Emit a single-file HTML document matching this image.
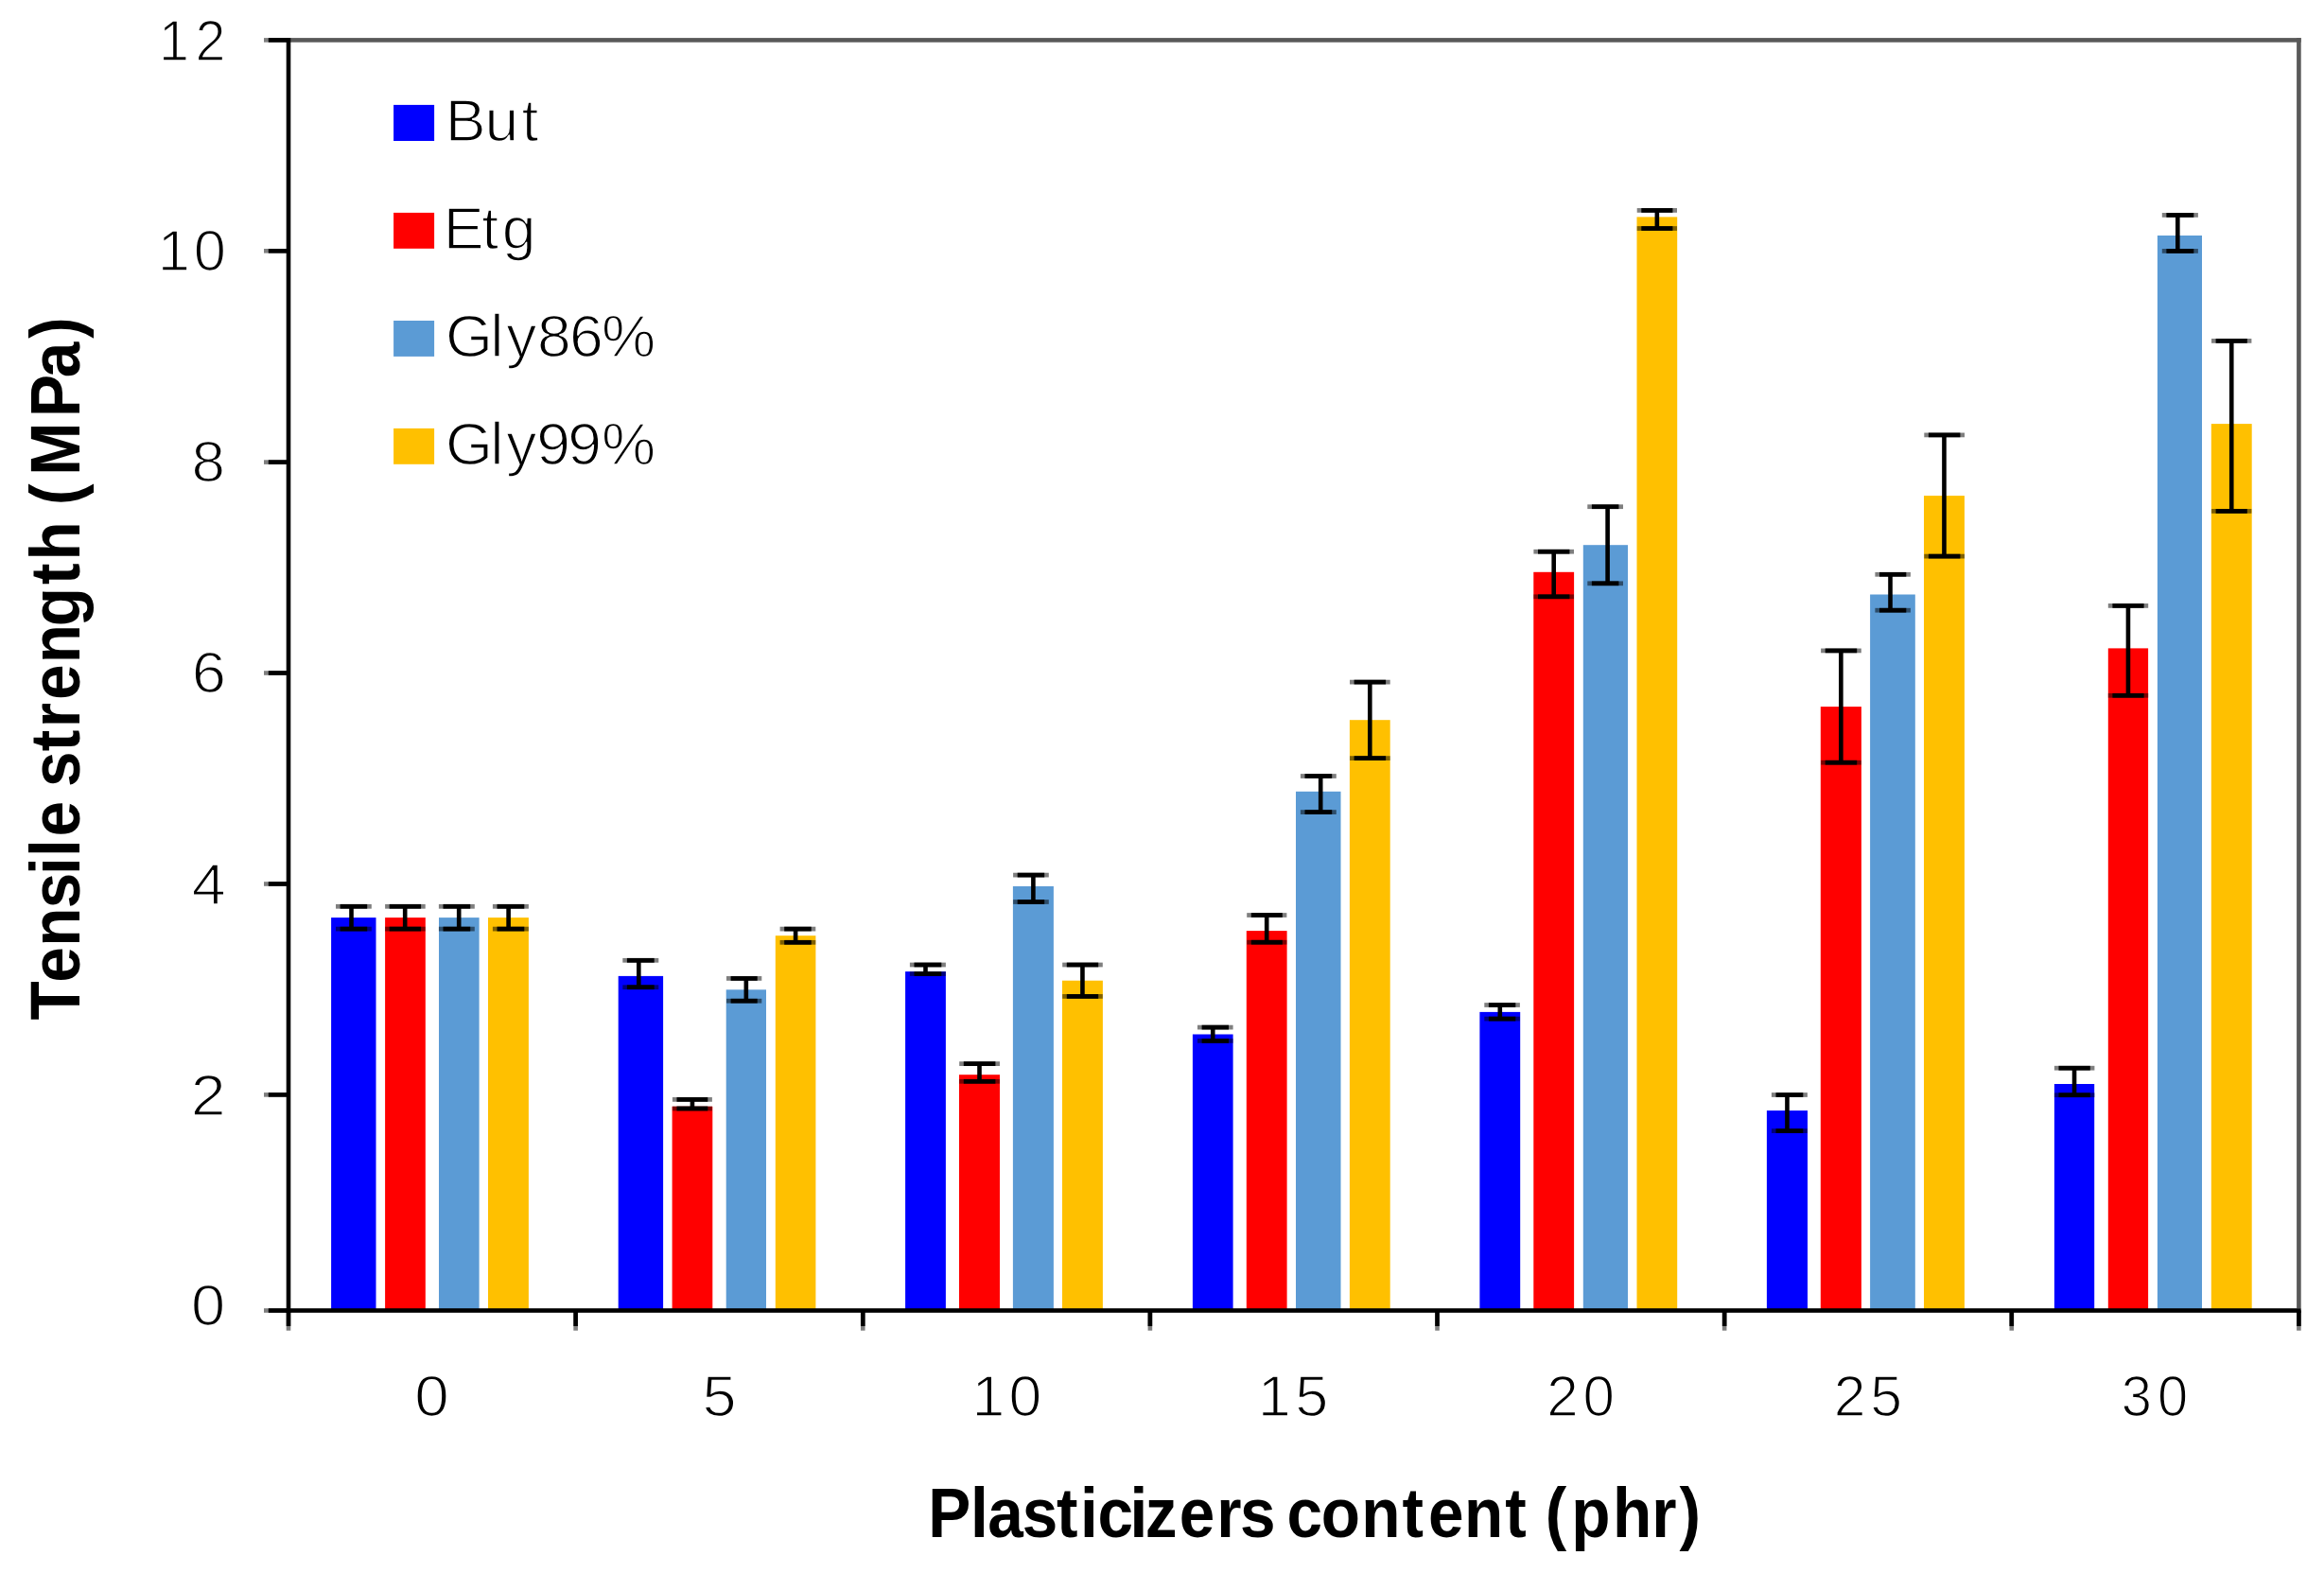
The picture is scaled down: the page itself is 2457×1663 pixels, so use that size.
<!DOCTYPE html>
<html><head><meta charset="utf-8"><title>Tensile strength chart</title>
<style>html,body{margin:0;padding:0;background:#fff;overflow:hidden}svg{display:block}text{fill:#000}</style></head><body>
<svg width="2457" height="1663" viewBox="0 0 2457 1663">
<rect x="0" y="0" width="2457" height="1663" fill="#fff"/>
<rect x="305.0" y="40.1" width="2127.7" height="4.6" fill="#595959"/>
<rect x="2428.1" y="40.1" width="4.6" height="1343.1" fill="#595959"/>
<rect x="350.1" y="970.1" width="47.4" height="415.4" fill="#0000FF"/>
<rect x="407.1" y="970.1" width="42.7" height="415.4" fill="#FF0000"/>
<rect x="464" y="970.1" width="42.6" height="415.4" fill="#5B9BD5"/>
<rect x="516" y="970.1" width="42.9" height="415.4" fill="#FFC000"/>
<rect x="653.7" y="1031.9" width="47.4" height="353.6" fill="#0000FF"/>
<rect x="710.6" y="1169.8" width="42.7" height="215.7" fill="#FF0000"/>
<rect x="767.7" y="1046.3" width="42.3" height="339.2" fill="#5B9BD5"/>
<rect x="819.8" y="989.2" width="42.6" height="396.3" fill="#FFC000"/>
<rect x="957.1" y="1027.1" width="42.8" height="358.4" fill="#0000FF"/>
<rect x="1014" y="1136.2" width="43" height="249.3" fill="#FF0000"/>
<rect x="1070.9" y="937" width="43" height="448.5" fill="#5B9BD5"/>
<rect x="1123" y="1036.7" width="42.9" height="348.8" fill="#FFC000"/>
<rect x="1260.9" y="1093.5" width="42.7" height="292" fill="#0000FF"/>
<rect x="1317.8" y="984.1" width="42.8" height="401.4" fill="#FF0000"/>
<rect x="1370" y="836.8" width="47.5" height="548.7" fill="#5B9BD5"/>
<rect x="1426.9" y="761.2" width="42.8" height="624.3" fill="#FFC000"/>
<rect x="1564.4" y="1069.9" width="42.8" height="315.6" fill="#0000FF"/>
<rect x="1621.3" y="604.8" width="42.8" height="780.7" fill="#FF0000"/>
<rect x="1673.8" y="576.2" width="47.2" height="809.3" fill="#5B9BD5"/>
<rect x="1730.5" y="229.4" width="42.7" height="1156.1" fill="#FFC000"/>
<rect x="1867.9" y="1174.1" width="43.1" height="211.4" fill="#0000FF"/>
<rect x="1924.8" y="747.1" width="43.1" height="638.4" fill="#FF0000"/>
<rect x="1977.1" y="628.5" width="47.7" height="757" fill="#5B9BD5"/>
<rect x="2034" y="524.1" width="42.9" height="861.4" fill="#FFC000"/>
<rect x="2171.9" y="1146" width="42.3" height="239.5" fill="#0000FF"/>
<rect x="2228.8" y="685.4" width="42.3" height="700.1" fill="#FF0000"/>
<rect x="2280.9" y="249" width="47.1" height="1136.5" fill="#5B9BD5"/>
<rect x="2337.8" y="448.1" width="42.9" height="937.4" fill="#FFC000"/>
<rect x="369.2" y="958.3" width="4.6" height="23.8" fill="#000"/>
<rect x="355" y="955.93" width="37.8" height="4.75" fill="#000" fill-opacity="0.5"/>
<rect x="359.6" y="955.93" width="28.6" height="4.75" fill="#000"/>
<rect x="355" y="979.73" width="37.8" height="4.75" fill="#000" fill-opacity="0.5"/>
<rect x="359.6" y="979.73" width="28.6" height="4.75" fill="#000"/>
<rect x="425.9" y="958.3" width="4.6" height="23.8" fill="#000"/>
<rect x="407.1" y="955.93" width="42.6" height="4.75" fill="#000" fill-opacity="0.5"/>
<rect x="411.7" y="955.93" width="33.4" height="4.75" fill="#000"/>
<rect x="407.1" y="979.73" width="42.6" height="4.75" fill="#000" fill-opacity="0.5"/>
<rect x="411.7" y="979.73" width="33.4" height="4.75" fill="#000"/>
<rect x="482.9" y="958.3" width="4.6" height="23.8" fill="#000"/>
<rect x="463.9" y="955.93" width="37.9" height="4.75" fill="#000" fill-opacity="0.5"/>
<rect x="468.5" y="955.93" width="28.7" height="4.75" fill="#000"/>
<rect x="463.9" y="979.73" width="37.9" height="4.75" fill="#000" fill-opacity="0.5"/>
<rect x="468.5" y="979.73" width="28.7" height="4.75" fill="#000"/>
<rect x="535.3" y="958.3" width="4.6" height="23.8" fill="#000"/>
<rect x="520.9" y="955.93" width="38" height="4.75" fill="#000" fill-opacity="0.5"/>
<rect x="525.5" y="955.93" width="28.8" height="4.75" fill="#000"/>
<rect x="520.9" y="979.73" width="38" height="4.75" fill="#000" fill-opacity="0.5"/>
<rect x="525.5" y="979.73" width="28.8" height="4.75" fill="#000"/>
<rect x="673" y="1015.3" width="4.6" height="28.4" fill="#000"/>
<rect x="658.3" y="1012.93" width="38" height="4.75" fill="#000" fill-opacity="0.5"/>
<rect x="662.9" y="1012.93" width="28.8" height="4.75" fill="#000"/>
<rect x="658.3" y="1041.33" width="38" height="4.75" fill="#000" fill-opacity="0.5"/>
<rect x="662.9" y="1041.33" width="28.8" height="4.75" fill="#000"/>
<rect x="729.65" y="1162.4" width="4.6" height="9.6" fill="#000"/>
<rect x="710.9" y="1160.03" width="42" height="4.75" fill="#000" fill-opacity="0.5"/>
<rect x="715.5" y="1160.03" width="32.8" height="4.75" fill="#000"/>
<rect x="710.9" y="1169.63" width="42" height="4.75" fill="#000" fill-opacity="0.5"/>
<rect x="715.5" y="1169.63" width="32.8" height="4.75" fill="#000"/>
<rect x="786.55" y="1034.4" width="4.6" height="23.8" fill="#000"/>
<rect x="768" y="1032.03" width="37.3" height="4.75" fill="#000" fill-opacity="0.5"/>
<rect x="772.6" y="1032.03" width="28.1" height="4.75" fill="#000"/>
<rect x="768" y="1055.83" width="37.3" height="4.75" fill="#000" fill-opacity="0.5"/>
<rect x="772.6" y="1055.83" width="28.1" height="4.75" fill="#000"/>
<rect x="838.8" y="982.1" width="4.6" height="14.2" fill="#000"/>
<rect x="824.6" y="979.73" width="37.7" height="4.75" fill="#000" fill-opacity="0.5"/>
<rect x="829.2" y="979.73" width="28.5" height="4.75" fill="#000"/>
<rect x="824.6" y="993.93" width="37.7" height="4.75" fill="#000" fill-opacity="0.5"/>
<rect x="829.2" y="993.93" width="28.5" height="4.75" fill="#000"/>
<rect x="976.2" y="1020" width="4.6" height="9.5" fill="#000"/>
<rect x="961.9" y="1017.63" width="38" height="4.75" fill="#000" fill-opacity="0.5"/>
<rect x="966.5" y="1017.63" width="28.8" height="4.75" fill="#000"/>
<rect x="961.9" y="1027.13" width="38" height="4.75" fill="#000" fill-opacity="0.5"/>
<rect x="966.5" y="1027.13" width="28.8" height="4.75" fill="#000"/>
<rect x="1033.2" y="1124.6" width="4.6" height="18.7" fill="#000"/>
<rect x="1014.2" y="1122.23" width="42.8" height="4.75" fill="#000" fill-opacity="0.5"/>
<rect x="1018.8" y="1122.23" width="33.6" height="4.75" fill="#000"/>
<rect x="1014.2" y="1140.93" width="42.8" height="4.75" fill="#000" fill-opacity="0.5"/>
<rect x="1018.8" y="1140.93" width="33.6" height="4.75" fill="#000"/>
<rect x="1090.1" y="925.1" width="4.6" height="28.4" fill="#000"/>
<rect x="1071.1" y="922.73" width="37.7" height="4.75" fill="#000" fill-opacity="0.5"/>
<rect x="1075.7" y="922.73" width="28.5" height="4.75" fill="#000"/>
<rect x="1071.1" y="951.13" width="37.7" height="4.75" fill="#000" fill-opacity="0.5"/>
<rect x="1075.7" y="951.13" width="28.5" height="4.75" fill="#000"/>
<rect x="1142.15" y="1020" width="4.6" height="33.4" fill="#000"/>
<rect x="1123.2" y="1017.63" width="42.6" height="4.75" fill="#000" fill-opacity="0.5"/>
<rect x="1127.8" y="1017.63" width="33.4" height="4.75" fill="#000"/>
<rect x="1123.2" y="1051.03" width="42.6" height="4.75" fill="#000" fill-opacity="0.5"/>
<rect x="1127.8" y="1051.03" width="33.4" height="4.75" fill="#000"/>
<rect x="1279.95" y="1086.1" width="4.6" height="14.3" fill="#000"/>
<rect x="1266" y="1083.73" width="37.6" height="4.75" fill="#000" fill-opacity="0.5"/>
<rect x="1270.6" y="1083.73" width="28.4" height="4.75" fill="#000"/>
<rect x="1266" y="1098.03" width="37.6" height="4.75" fill="#000" fill-opacity="0.5"/>
<rect x="1270.6" y="1098.03" width="28.4" height="4.75" fill="#000"/>
<rect x="1336.9" y="967.5" width="4.6" height="28.7" fill="#000"/>
<rect x="1318.2" y="965.13" width="42.2" height="4.75" fill="#000" fill-opacity="0.5"/>
<rect x="1322.8" y="965.13" width="33" height="4.75" fill="#000"/>
<rect x="1318.2" y="993.83" width="42.2" height="4.75" fill="#000" fill-opacity="0.5"/>
<rect x="1322.8" y="993.83" width="33" height="4.75" fill="#000"/>
<rect x="1393.9" y="820.5" width="4.6" height="38.1" fill="#000"/>
<rect x="1374.9" y="818.13" width="37.9" height="4.75" fill="#000" fill-opacity="0.5"/>
<rect x="1379.5" y="818.13" width="28.7" height="4.75" fill="#000"/>
<rect x="1374.9" y="856.23" width="37.9" height="4.75" fill="#000" fill-opacity="0.5"/>
<rect x="1379.5" y="856.23" width="28.7" height="4.75" fill="#000"/>
<rect x="1446" y="721.1" width="4.6" height="80.5" fill="#000"/>
<rect x="1427" y="718.73" width="42.7" height="4.75" fill="#000" fill-opacity="0.5"/>
<rect x="1431.6" y="718.73" width="33.5" height="4.75" fill="#000"/>
<rect x="1427" y="799.23" width="42.7" height="4.75" fill="#000" fill-opacity="0.5"/>
<rect x="1431.6" y="799.23" width="33.5" height="4.75" fill="#000"/>
<rect x="1583.5" y="1062.5" width="4.6" height="14.6" fill="#000"/>
<rect x="1569.3" y="1060.13" width="37.6" height="4.75" fill="#000" fill-opacity="0.5"/>
<rect x="1573.9" y="1060.13" width="28.4" height="4.75" fill="#000"/>
<rect x="1569.3" y="1074.73" width="37.6" height="4.75" fill="#000" fill-opacity="0.5"/>
<rect x="1573.9" y="1074.73" width="28.4" height="4.75" fill="#000"/>
<rect x="1640.4" y="583.2" width="4.6" height="47.6" fill="#000"/>
<rect x="1621.4" y="580.83" width="42.6" height="4.75" fill="#000" fill-opacity="0.5"/>
<rect x="1626" y="580.83" width="33.4" height="4.75" fill="#000"/>
<rect x="1621.4" y="628.43" width="42.6" height="4.75" fill="#000" fill-opacity="0.5"/>
<rect x="1626" y="628.43" width="33.4" height="4.75" fill="#000"/>
<rect x="1697.3" y="535.7" width="4.6" height="81.1" fill="#000"/>
<rect x="1678.3" y="533.33" width="37.7" height="4.75" fill="#000" fill-opacity="0.5"/>
<rect x="1682.9" y="533.33" width="28.5" height="4.75" fill="#000"/>
<rect x="1678.3" y="614.43" width="37.7" height="4.75" fill="#000" fill-opacity="0.5"/>
<rect x="1682.9" y="614.43" width="28.5" height="4.75" fill="#000"/>
<rect x="1749.55" y="222.4" width="4.6" height="19.1" fill="#000"/>
<rect x="1730.7" y="220.03" width="42.3" height="4.75" fill="#000" fill-opacity="0.5"/>
<rect x="1735.3" y="220.03" width="33.1" height="4.75" fill="#000"/>
<rect x="1730.7" y="239.13" width="42.3" height="4.75" fill="#000" fill-opacity="0.5"/>
<rect x="1735.3" y="239.13" width="33.1" height="4.75" fill="#000"/>
<rect x="1887.15" y="1157.5" width="4.6" height="38.1" fill="#000"/>
<rect x="1872.9" y="1155.13" width="38" height="4.75" fill="#000" fill-opacity="0.5"/>
<rect x="1877.5" y="1155.13" width="28.8" height="4.75" fill="#000"/>
<rect x="1872.9" y="1193.23" width="38" height="4.75" fill="#000" fill-opacity="0.5"/>
<rect x="1877.5" y="1193.23" width="28.8" height="4.75" fill="#000"/>
<rect x="1944.05" y="687.9" width="4.6" height="118.3" fill="#000"/>
<rect x="1925.1" y="685.53" width="42.7" height="4.75" fill="#000" fill-opacity="0.5"/>
<rect x="1929.7" y="685.53" width="33.5" height="4.75" fill="#000"/>
<rect x="1925.1" y="803.83" width="42.7" height="4.75" fill="#000" fill-opacity="0.5"/>
<rect x="1929.7" y="803.83" width="33.5" height="4.75" fill="#000"/>
<rect x="1996.2" y="607.3" width="4.6" height="37.9" fill="#000"/>
<rect x="1982.4" y="604.93" width="37.5" height="4.75" fill="#000" fill-opacity="0.5"/>
<rect x="1987" y="604.93" width="28.3" height="4.75" fill="#000"/>
<rect x="1982.4" y="642.83" width="37.5" height="4.75" fill="#000" fill-opacity="0.5"/>
<rect x="1987" y="642.83" width="28.3" height="4.75" fill="#000"/>
<rect x="2053.15" y="459.9" width="4.6" height="128.2" fill="#000"/>
<rect x="2034.3" y="457.53" width="42.7" height="4.75" fill="#000" fill-opacity="0.5"/>
<rect x="2038.9" y="457.53" width="33.5" height="4.75" fill="#000"/>
<rect x="2034.3" y="585.73" width="42.7" height="4.75" fill="#000" fill-opacity="0.5"/>
<rect x="2038.9" y="585.73" width="33.5" height="4.75" fill="#000"/>
<rect x="2190.75" y="1129.2" width="4.6" height="28.5" fill="#000"/>
<rect x="2171.9" y="1126.83" width="42.5" height="4.75" fill="#000" fill-opacity="0.5"/>
<rect x="2176.5" y="1126.83" width="33.3" height="4.75" fill="#000"/>
<rect x="2171.9" y="1155.33" width="42.5" height="4.75" fill="#000" fill-opacity="0.5"/>
<rect x="2176.5" y="1155.33" width="33.3" height="4.75" fill="#000"/>
<rect x="2247.65" y="640.4" width="4.6" height="94.9" fill="#000"/>
<rect x="2228.8" y="638.03" width="42.4" height="4.75" fill="#000" fill-opacity="0.5"/>
<rect x="2233.4" y="638.03" width="33.2" height="4.75" fill="#000"/>
<rect x="2228.8" y="732.93" width="42.4" height="4.75" fill="#000" fill-opacity="0.5"/>
<rect x="2233.4" y="732.93" width="33.2" height="4.75" fill="#000"/>
<rect x="2300" y="227.4" width="4.6" height="38" fill="#000"/>
<rect x="2285.8" y="225.03" width="38.1" height="4.75" fill="#000" fill-opacity="0.5"/>
<rect x="2290.4" y="225.03" width="28.9" height="4.75" fill="#000"/>
<rect x="2285.8" y="263.03" width="38.1" height="4.75" fill="#000" fill-opacity="0.5"/>
<rect x="2290.4" y="263.03" width="28.9" height="4.75" fill="#000"/>
<rect x="2356.95" y="360.4" width="4.6" height="180" fill="#000"/>
<rect x="2338" y="358.03" width="42.4" height="4.75" fill="#000" fill-opacity="0.5"/>
<rect x="2342.6" y="358.03" width="33.2" height="4.75" fill="#000"/>
<rect x="2338" y="538.03" width="42.4" height="4.75" fill="#000" fill-opacity="0.5"/>
<rect x="2342.6" y="538.03" width="33.2" height="4.75" fill="#000"/>
<rect x="302.7" y="40.1" width="4.6" height="1347.7" fill="#000"/>
<rect x="302.7" y="1383.2" width="2130" height="4.6" fill="#000"/>
<rect x="279" y="40.1" width="26" height="4.6" fill="#000" fill-opacity="0.5"/>
<rect x="283.8" y="40.1" width="21.2" height="4.6" fill="#000"/>
<rect x="279" y="263" width="26" height="4.6" fill="#000" fill-opacity="0.5"/>
<rect x="283.8" y="263" width="21.2" height="4.6" fill="#000"/>
<rect x="279" y="486.3" width="26" height="4.6" fill="#000" fill-opacity="0.5"/>
<rect x="283.8" y="486.3" width="21.2" height="4.6" fill="#000"/>
<rect x="279" y="709.2" width="26" height="4.6" fill="#000" fill-opacity="0.5"/>
<rect x="283.8" y="709.2" width="21.2" height="4.6" fill="#000"/>
<rect x="279" y="932.2" width="26" height="4.6" fill="#000" fill-opacity="0.5"/>
<rect x="283.8" y="932.2" width="21.2" height="4.6" fill="#000"/>
<rect x="279" y="1155.1" width="26" height="4.6" fill="#000" fill-opacity="0.5"/>
<rect x="283.8" y="1155.1" width="21.2" height="4.6" fill="#000"/>
<rect x="279" y="1383.2" width="26" height="4.6" fill="#000" fill-opacity="0.5"/>
<rect x="283.8" y="1383.2" width="21.2" height="4.6" fill="#000"/>
<rect x="302.7" y="1385.5" width="4.6" height="21.2" fill="#000" fill-opacity="0.5"/>
<rect x="302.7" y="1385.5" width="4.6" height="16.5" fill="#000"/>
<rect x="606.33" y="1385.5" width="4.6" height="21.2" fill="#000" fill-opacity="0.5"/>
<rect x="606.33" y="1385.5" width="4.6" height="16.5" fill="#000"/>
<rect x="909.96" y="1385.5" width="4.6" height="21.2" fill="#000" fill-opacity="0.5"/>
<rect x="909.96" y="1385.5" width="4.6" height="16.5" fill="#000"/>
<rect x="1213.59" y="1385.5" width="4.6" height="21.2" fill="#000" fill-opacity="0.5"/>
<rect x="1213.59" y="1385.5" width="4.6" height="16.5" fill="#000"/>
<rect x="1517.21" y="1385.5" width="4.6" height="21.2" fill="#000" fill-opacity="0.5"/>
<rect x="1517.21" y="1385.5" width="4.6" height="16.5" fill="#000"/>
<rect x="1820.84" y="1385.5" width="4.6" height="21.2" fill="#000" fill-opacity="0.5"/>
<rect x="1820.84" y="1385.5" width="4.6" height="16.5" fill="#000"/>
<rect x="2124.47" y="1385.5" width="4.6" height="21.2" fill="#000" fill-opacity="0.5"/>
<rect x="2124.47" y="1385.5" width="4.6" height="16.5" fill="#000"/>
<rect x="2428.1" y="1385.5" width="4.6" height="21.2" fill="#000" fill-opacity="0.5"/>
<rect x="2428.1" y="1385.5" width="4.6" height="16.5" fill="#000"/>
<text transform="translate(0 63.6) scale(0.94887 1)" x="177.12 217.55" y="0" font-family="Liberation Sans, sans-serif" stroke="#fff" stroke-width="1.5" font-size="60.5">12</text>
<text transform="translate(0 286.3) scale(1.01624 1)" x="164.2 201.51" y="0" font-family="Liberation Sans, sans-serif" stroke="#fff" stroke-width="1.5" font-size="60.5">10</text>
<text transform="translate(0 509.1) scale(1.05504 1)" x="191.89" y="0" font-family="Liberation Sans, sans-serif" stroke="#fff" stroke-width="1.5" font-size="60.5">8</text>
<text transform="translate(0 732.2) scale(1.07797 1)" x="188.07" y="0" font-family="Liberation Sans, sans-serif" stroke="#fff" stroke-width="1.5" font-size="60.5">6</text>
<text transform="translate(0 955.8) scale(1.06952 1)" x="189.53" y="0" font-family="Liberation Sans, sans-serif" stroke="#fff" stroke-width="1.5" font-size="60.5">4</text>
<text transform="translate(0 1178.7) scale(1.09594 1)" x="184.03" y="0" font-family="Liberation Sans, sans-serif" stroke="#fff" stroke-width="1.5" font-size="60.5">2</text>
<text transform="translate(0 1401.3) scale(1.07438 1)" x="187.92" y="0" font-family="Liberation Sans, sans-serif" stroke="#fff" stroke-width="1.5" font-size="60.5">0</text>
<text transform="translate(0 1496.5) scale(1.08471 1)" x="404.14" y="0" font-family="Liberation Sans, sans-serif" stroke="#fff" stroke-width="1.5" font-size="60.5">0</text>
<text transform="translate(0 1496.5) scale(1.07262 1)" x="692.14" y="0" font-family="Liberation Sans, sans-serif" stroke="#fff" stroke-width="1.5" font-size="60.5">5</text>
<text transform="translate(0 1496.5) scale(1.03346 1)" x="994.29 1031.97" y="0" font-family="Liberation Sans, sans-serif" stroke="#fff" stroke-width="1.5" font-size="60.5">10</text>
<text transform="translate(0 1496.5) scale(1.04203 1)" x="1276.06 1313.93" y="0" font-family="Liberation Sans, sans-serif" stroke="#fff" stroke-width="1.5" font-size="60.5">15</text>
<text transform="translate(0 1496.5) scale(0.99376 1)" x="1645.44 1683.93" y="0" font-family="Liberation Sans, sans-serif" stroke="#fff" stroke-width="1.5" font-size="60.5">20</text>
<text transform="translate(0 1496.5) scale(1.00439 1)" x="1930.26 1968.65" y="0" font-family="Liberation Sans, sans-serif" stroke="#fff" stroke-width="1.5" font-size="60.5">25</text>
<text transform="translate(0 1496.5) scale(0.95668 1)" x="2344.4 2384.34" y="0" font-family="Liberation Sans, sans-serif" stroke="#fff" stroke-width="1.5" font-size="60.5">30</text>
<rect x="416.1" y="110.9" width="43" height="38.1" fill="#0000FF"/>
<text transform="translate(0 149) scale(1.02000 1)" x="461.65 502.36 540.62" y="0" font-family="Liberation Sans, sans-serif" stroke="#fff" stroke-width="1.5" font-size="63">But</text>
<rect x="416.1" y="224.9" width="43" height="37.9" fill="#FF0000"/>
<text transform="translate(0 262.8) scale(1.02000 1)" x="459.62 499.2 520.41" y="0" font-family="Liberation Sans, sans-serif" stroke="#fff" stroke-width="1.5" font-size="63">Etg</text>
<rect x="416.1" y="339" width="43" height="37.9" fill="#5B9BD5"/>
<text transform="translate(0 376.9) scale(1.02000 1)" x="461.67 508 524.79 556.89 590.3 623.63" y="0" font-family="Liberation Sans, sans-serif" stroke="#fff" stroke-width="1.5" font-size="63">Gly86%</text>
<rect x="416.1" y="452.9" width="43" height="37.9" fill="#FFC000"/>
<text transform="translate(0 490.8) scale(1.02000 1)" x="461.67 508 524.79 556.04 588.59 623.58" y="0" font-family="Liberation Sans, sans-serif" stroke="#fff" stroke-width="1.5" font-size="63">Gly99%</text>
<text transform="translate(0 1624.8) scale(0.9 1)" x="1090.25 1139.89 1160.26 1200.87 1241.07 1268.94 1289.51 1327.33 1345.42 1385.33 1429.22 1456.71 1498.43 1511.62 1551.9 1599.19 1647.35 1677.83 1720.08 1768.18 1793.16 1815.25 1845.83 1894.36 1940.28 1972.89" y="0" font-family="Liberation Sans, sans-serif" font-weight="bold" font-size="75">Plasticizers content (phr)</text>
<text transform="translate(84 1079) rotate(-90) translate(0 0) scale(0.9 1)" x="0.51 44.67 86.97 131.88 171.17 192.33 216.22 257.94 274.38 316.51 344.22 376.78 419.69 463.03 512.12 540.53 586.35 605.69 640.33 708.97 755.32 801.28" y="0" font-family="Liberation Sans, sans-serif" font-weight="bold" font-size="75">Tensile strength (MPa)</text>
</svg></body></html>
